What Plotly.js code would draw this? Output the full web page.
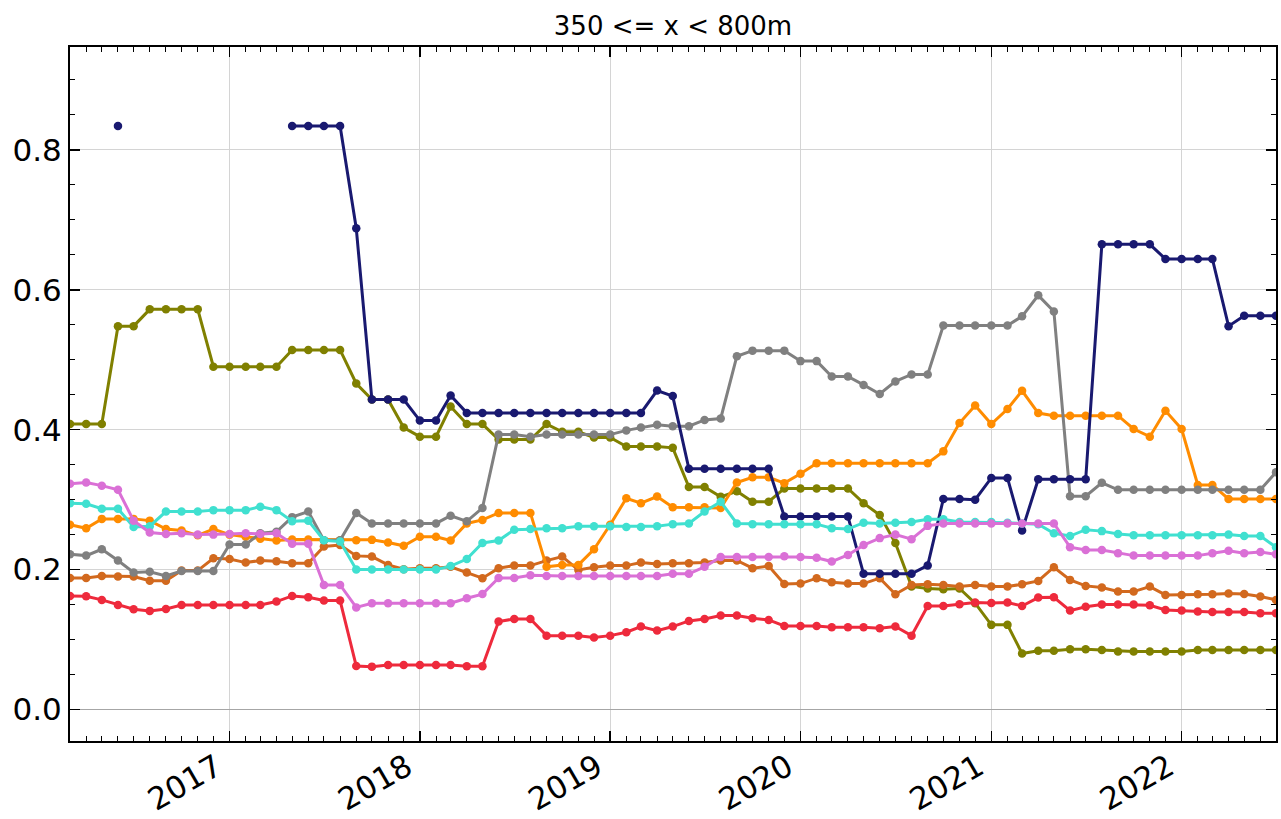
<!DOCTYPE html>
<html>
<head>
<meta charset="utf-8">
<script src="https://cdn.plot.ly/plotly-3.0.1.min.js"></script>
<style>html,body{margin:0;padding:0;background:#fff;}#chart{width:1281px;height:819px;}</style>
</head>
<body>
<div id="chart"></div>
<script>
const months = [
 "2016-03-01","2016-04-01","2016-05-01","2016-06-01","2016-07-01","2016-08-01","2016-09-01","2016-10-01","2016-11-01","2016-12-01",
 "2017-01-01","2017-02-01","2017-03-01","2017-04-01","2017-05-01","2017-06-01","2017-07-01","2017-08-01","2017-09-01","2017-10-01","2017-11-01","2017-12-01",
 "2018-01-01","2018-02-01","2018-03-01","2018-04-01","2018-05-01","2018-06-01","2018-07-01","2018-08-01","2018-09-01","2018-10-01","2018-11-01","2018-12-01",
 "2019-01-01","2019-02-01","2019-03-01","2019-04-01","2019-05-01","2019-06-01","2019-07-01","2019-08-01","2019-09-01","2019-10-01","2019-11-01","2019-12-01",
 "2020-01-01","2020-02-01","2020-03-01","2020-04-01","2020-05-01","2020-06-01","2020-07-01","2020-08-01","2020-09-01","2020-10-01","2020-11-01","2020-12-01",
 "2021-01-01","2021-02-01","2021-03-01","2021-04-01","2021-05-01","2021-06-01","2021-07-01","2021-08-01","2021-09-01","2021-10-01","2021-11-01","2021-12-01",
 "2022-01-01","2022-02-01","2022-03-01","2022-04-01","2022-05-01","2022-06-01","2022-07-01"
];

const olive = [.408,.408,.408,.548,.548,.572,.572,.572,.572,.490,.490,.490,.490,.490,.514,.514,.514,.514,.466,.443,
 .443,.403,.390,.390,.433,.408,.408,.386,.386,.386,.408,.397,.397,.389,.389,.376,.376,.376,.374,.318,
 .318,.304,.312,.297,.297,.316,.316,.316,.316,.316,.295,.278,.238,.176,.173,.172,.173,.152,.121,.121,
 .080,.084,.084,.086,.086,.085,.083,.083,.083,.083,.083,.085,.085,.085,.085,.085,.085];

const navy = [null,null,null,.834,null,null,null,null,null,null,null,null,null,null,.834,.834,.834,.834,.688,.443,
 .443,.443,.413,.413,.449,.424,.424,.424,.424,.424,.424,.424,.424,.424,.424,.424,.424,.456,.448,.344,
 .344,.344,.344,.344,.344,.276,.276,.276,.276,.276,.194,.194,.194,.194,.206,.301,.301,.300,.331,.331,
 .256,.329,.329,.329,.329,.665,.665,.665,.665,.644,.644,.644,.644,.548,.563,.563,.563];

const gray = [.222,.220,.229,.213,.196,.197,.191,.198,.198,.198,.236,.236,.252,.254,.275,.283,.242,.242,.281,.266,
 .266,.266,.266,.266,.277,.269,.288,.393,.393,.390,.393,.393,.393,.393,.393,.399,.403,.407,.405,.405,
 .414,.416,.505,.513,.513,.513,.498,.498,.476,.476,.464,.451,.469,.479,.479,.549,.549,.549,.549,.549,
 .562,.592,.569,.305,.305,.324,.314,.314,.314,.314,.314,.314,.314,.314,.314,.314,.339];

const turquoise = [.295,.294,.287,.287,.261,.262,.283,.283,.283,.285,.285,.285,.290,.285,.269,.270,.242,.240,.200,.200,
 .200,.200,.200,.200,.205,.215,.238,.2415,.257,.258,.259,.259,.262,.262,.262,.261,.261,.262,.265,.266,
 .283,.297,.266,.265,.265,.265,.265,.265,.259,.258,.267,.266,.267,.268,.272,.272,.268,.268,.268,.267,
 .266,.265,.252,.248,.257,.255,.251,.249,.249,.249,.249,.249,.249,.250,.248,.248,.232];

const orchid = [.3226,.3245,.320,.314,.270,.253,.251,.252,.250,.250,.251,.252,.251,.252,.237,.237,.178,.178,.146,.152,
 .152,.152,.152,.152,.152,.159,.165,.188,.188,.192,.191,.191,.191,.191,.191,.191,.191,.191,.194,.194,
 .204,.218,.218,.218,.218,.219,.218,.217,.2115,.221,.235,.245,.250,.2435,.2625,.266,.266,.266,.266,.266,
 .266,.266,.266,.232,.228,.228,.2235,.220,.220,.220,.220,.220,.2235,.227,.2235,.225,.222];

const orange = [.264,.259,.2725,.2725,.2725,.270,.258,.256,.249,.258,.250,.247,.244,.2415,.243,.243,.242,.242,.242,.2425,
 .2386,.234,.247,.247,.2415,.266,.271,.281,.281,.281,.204,.2067,.2067,.229,.264,.302,.295,.3045,.289,.289,
 .289,.288,.3245,.332,.332,.3236,.337,.352,.352,.352,.352,.352,.352,.352,.352,.369,.4095,.4346,.408,.4295,
 .4556,.4237,.420,.420,.420,.420,.420,.401,.390,.427,.401,.321,.321,.301,.301,.301,.301];

const chocolate = [.188,.188,.191,.190,.190,.184,.184,.1986,.1986,.2163,.215,.210,.213,.212,.209,.209,.233,.235,.2196,.2186,
 .2067,.2006,.202,.202,.204,.1957,.1877,.202,.2057,.2057,.2129,.2186,.1996,.2034,.2057,.2057,.210,.208,.209,.209,
 .210,.213,.213,.202,.205,.1795,.180,.1877,.182,.180,.180,.1877,.1648,.178,.179,.178,.1757,.178,.176,.176,
 .179,.1838,.2034,.1853,.1767,.1743,.1686,.1686,.1757,.1638,.1638,.1648,.1648,.166,.165,.1615,.1567];

const red = [.1624,.162,.1567,.1495,.1433,.141,.1438,.1495,.1495,.1495,.1495,.1495,.1495,.1543,.1624,.1605,.1557,.1557,.0622,.0613,
 .0637,.0637,.0637,.0637,.0637,.062,.062,.1257,.1295,.1295,.1056,.1056,.1056,.1028,.1056,.1105,.1186,.1128,.1186,.1266,
 .1295,.1343,.1343,.1305,.128,.1195,.1195,.1195,.1176,.1176,.1176,.1162,.1186,.1056,.148,.148,.1505,.1529,.1524,.153,
 .148,.160,.1605,.1414,.147,.150,.150,.150,.149,.1424,.1414,.140,.1395,.1395,.1395,.1376,.1376];

const seriesList = [
  {y: olive, color: "#808000"},
  {y: red, color: "#ee2a3c"},
  {y: chocolate, color: "#d2691e"},
  {y: orange, color: "#ff8c00"},
  {y: gray, color: "#808080"},
  {y: navy, color: "#191970"},
  {y: turquoise, color: "#40e0d0"},
  {y: orchid, color: "#da70d6"}
];

const traces = seriesList.map(s => ({
  type: "scatter",
  mode: "lines+markers",
  x: months,
  y: s.y,
  connectgaps: false,
  line: {color: s.color, width: 3},
  marker: {color: s.color, size: 8.5},
  showlegend: false,
  hoverinfo: "x+y"
}));

const FONT = "DejaVu Sans, sans-serif";
const layout = {
  width: 1281,
  height: 819,
  margin: {l: 70, r: 5, t: 47, b: 78},
  paper_bgcolor: "#ffffff",
  plot_bgcolor: "#ffffff",
  font: {family: FONT, color: "#000000"},
  title: {
    text: "350 <= x < 800m",
    font: {family: FONT, size: 26, color: "#000000"},
    x: 0.5, xref: "paper", xanchor: "center",
    y: 1 - 26/819, yref: "container", yanchor: "middle"
  },
  xaxis: {
    type: "date",
    range: ["2016-03-01", "2022-07-01"],
    tick0: "2017-01-01",
    dtick: "M12",
    tickformat: "%Y",
    tickangle: -30,
    tickfont: {family: FONT, size: 31, color: "#000000"},
    ticklabelshift: -13,
    ticklabelstandoff: -6,
    ticks: "inside",
    ticklen: 10,
    tickwidth: 1.5,
    tickcolor: "#000000",
    showgrid: true,
    gridcolor: "#d4d4d4",
    gridwidth: 1,
    showline: true,
    linecolor: "#000000",
    linewidth: 2,
    mirror: "ticks",
    zeroline: false,
    minor: {ticks: "inside", dtick: "M1", tick0: "2016-01-01", ticklen: 5, tickwidth: 1, tickcolor: "#000000", showgrid: false}
  },
  yaxis: {
    range: [-0.045, 0.947],
    tick0: 0,
    dtick: 0.2,
    tickformat: ".1f",
    tickfont: {family: FONT, size: 31, color: "#000000"},
    ticks: "inside",
    ticklen: 10,
    tickwidth: 1.5,
    tickcolor: "#000000",
    showgrid: true,
    gridcolor: "#d4d4d4",
    gridwidth: 1,
    showline: true,
    linecolor: "#000000",
    linewidth: 2,
    mirror: "ticks",
    zeroline: true,
    zerolinecolor: "#a6a6a6",
    zerolinewidth: 1.5,
    minor: {ticks: "inside", dtick: 0.05, tick0: 0, ticklen: 5, tickwidth: 1, tickcolor: "#000000", showgrid: false}
  }
};

Plotly.newPlot("chart", traces, layout, {displayModeBar: false, staticPlot: true});
</script>
</body>
</html>
